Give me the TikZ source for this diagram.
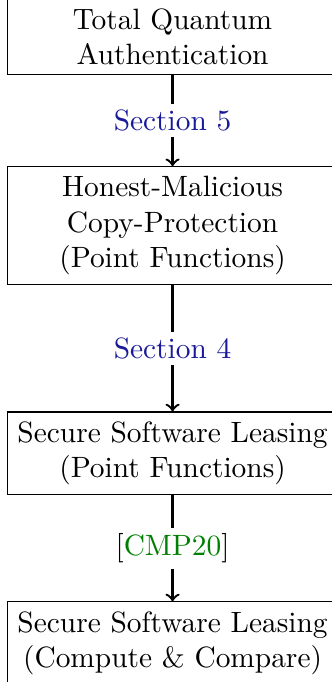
\documentclass[tikz,border=0pt]{standalone}
\usepackage{tikz}
\usetikzlibrary{positioning}
\definecolor{seccol}{rgb}{0.1,0.1,0.6}
\definecolor{citecol}{rgb}{0,0.5,0}

\begin{document}
\begin{tikzpicture}[
	res/.style={draw,line width=0.4pt,minimum width=112.2pt,align=center},
	impl/.style={thick,->},
	lbl/.style={fill=white,inner sep=2pt}]
	\useasboundingbox (0,0) rectangle (112.9pt,-232pt);

	% the four results
	\node[res,anchor=north west] (tqa) at (2.4pt,0.7pt) {Total Quantum\\Authentication};
	\node[res,below=31pt of tqa] (hmcp) {Honest-Malicious\\Copy-Protection\\(Point Functions)};
	\node[res,below=42.9pt of hmcp] (sslpf) {Secure Software Leasing\\(Point Functions)};
	\node[res,below=36pt of sslpf] (sslcc) {Secure Software Leasing\\(Compute \& Compare)};

	% implications
	\draw[impl] (tqa) -- node[lbl] {\color{seccol}Section 5} (hmcp);
	\draw[impl] (hmcp) -- node[lbl] {\color{seccol}Section 4} (sslpf);
	\draw[impl] (sslpf) -- node[lbl] {[{\color{citecol}CMP20}]} (sslcc);

\end{tikzpicture}
\end{document}
